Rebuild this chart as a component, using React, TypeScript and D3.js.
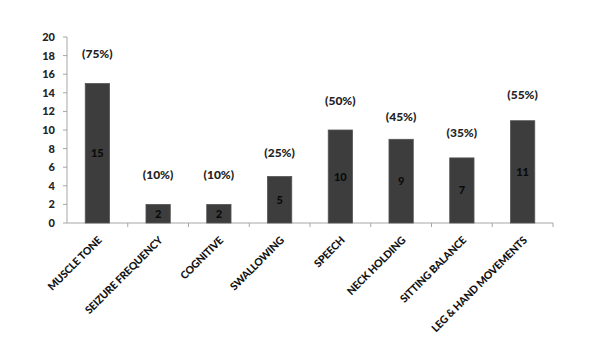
import * as d3 from "d3";

// ── Data ──────────────────────────────────────────────────────
const CATEGORIES = [
  "MUSCLE TONE",
  "SEIZURE FREQUENCY",
  "COGNITIVE",
  "SWALLOWING",
  "SPEECH",
  "NECK HOLDING",
  "SITTING BALANCE",
  "LEG & HAND MOVEMENTS",
];
const COUNTS = [15, 2, 2, 5, 10, 9, 7, 11];
const PERCENTS = ["(75%)", "(10%)", "(10%)", "(25%)", "(50%)", "(45%)", "(35%)", "(55%)"];
const Y_TICKS = [0, 2, 4, 6, 8, 10, 12, 14, 16, 18, 20];

// percent label lift above bar top (px), as placed in the original
const PCT_LIFT = [30, 29, 29, 24, 29, 22, 25, 26];

// ── Geometry ──────────────────────────────────────────────────
const W = 600;
const H = 352;
const M = { left: 67, right: 47, top: 37, bottom: 129 };
const BAR = "#3d3d3d";
const AXIS = "#a6a6a6";
const FONT = "Lato, 'Open Sans', Arial, sans-serif";

export default function App() {
  const x = d3.scaleBand().domain(CATEGORIES).range([M.left, W - M.right]);
  const y = d3.scaleLinear().domain([0, 20]).range([H - M.bottom, M.top]);
  const bw = x.bandwidth() * 0.4;
  const y0 = y(0);

  return (
    <svg
      width={W}
      height={H}
      style={{ position: "absolute", left: 0, top: 0, background: "#fff" }}
      fontFamily={FONT}
    >
      {/* y axis */}
      <line x1={M.left} x2={M.left} y1={y(20)} y2={y0} stroke={AXIS} />
      {Y_TICKS.map((t) => (
        <g key={t}>
          <line x1={M.left - 4} x2={M.left} y1={y(t)} y2={y(t)} stroke={AXIS} />
          <text x={M.left - 12} y={y(t) + 4} textAnchor="end" fontSize={11} fontWeight={900} fill="#222">
            {t}
          </text>
        </g>
      ))}

      {/* x axis */}
      <line x1={M.left} x2={W - M.right} y1={y0} y2={y0} stroke={AXIS} />
      {CATEGORIES.map((c) => (
        <line key={c} x1={(x(c) as number) + x.bandwidth()} x2={(x(c) as number) + x.bandwidth()}
          y1={y0} y2={y0 + 4} stroke={AXIS} />
      ))}

      {/* bars */}
      {CATEGORIES.map((c, i) => {
        const cx = (x(c) as number) + x.bandwidth() / 2;
        const top = y(COUNTS[i]);
        return (
          <g key={c}>
            <rect x={cx - bw / 2} y={top} width={bw} height={y0 - top} fill={BAR} stroke="#555" strokeWidth={0.8} />
            <text x={cx} y={(top + y0) / 2 + 4} textAnchor="middle" fontSize={11} fontWeight={900} fill="#0a0a0a">
              {COUNTS[i]}
            </text>
            <text x={cx} y={top - PCT_LIFT[i] + 4} textAnchor="middle" fontSize={12} fontWeight={900} fill="#222">
              {PERCENTS[i]}
            </text>
            <text
              transform={`translate(${cx + 5},${y0 + 18}) rotate(-45)`}
              textAnchor="end"
              fontSize={10.5}
              fontWeight={900}
              fill="#111"
              letterSpacing={-0.2}
            >
              {c}
            </text>
          </g>
        );
      })}
    </svg>
  );
}
